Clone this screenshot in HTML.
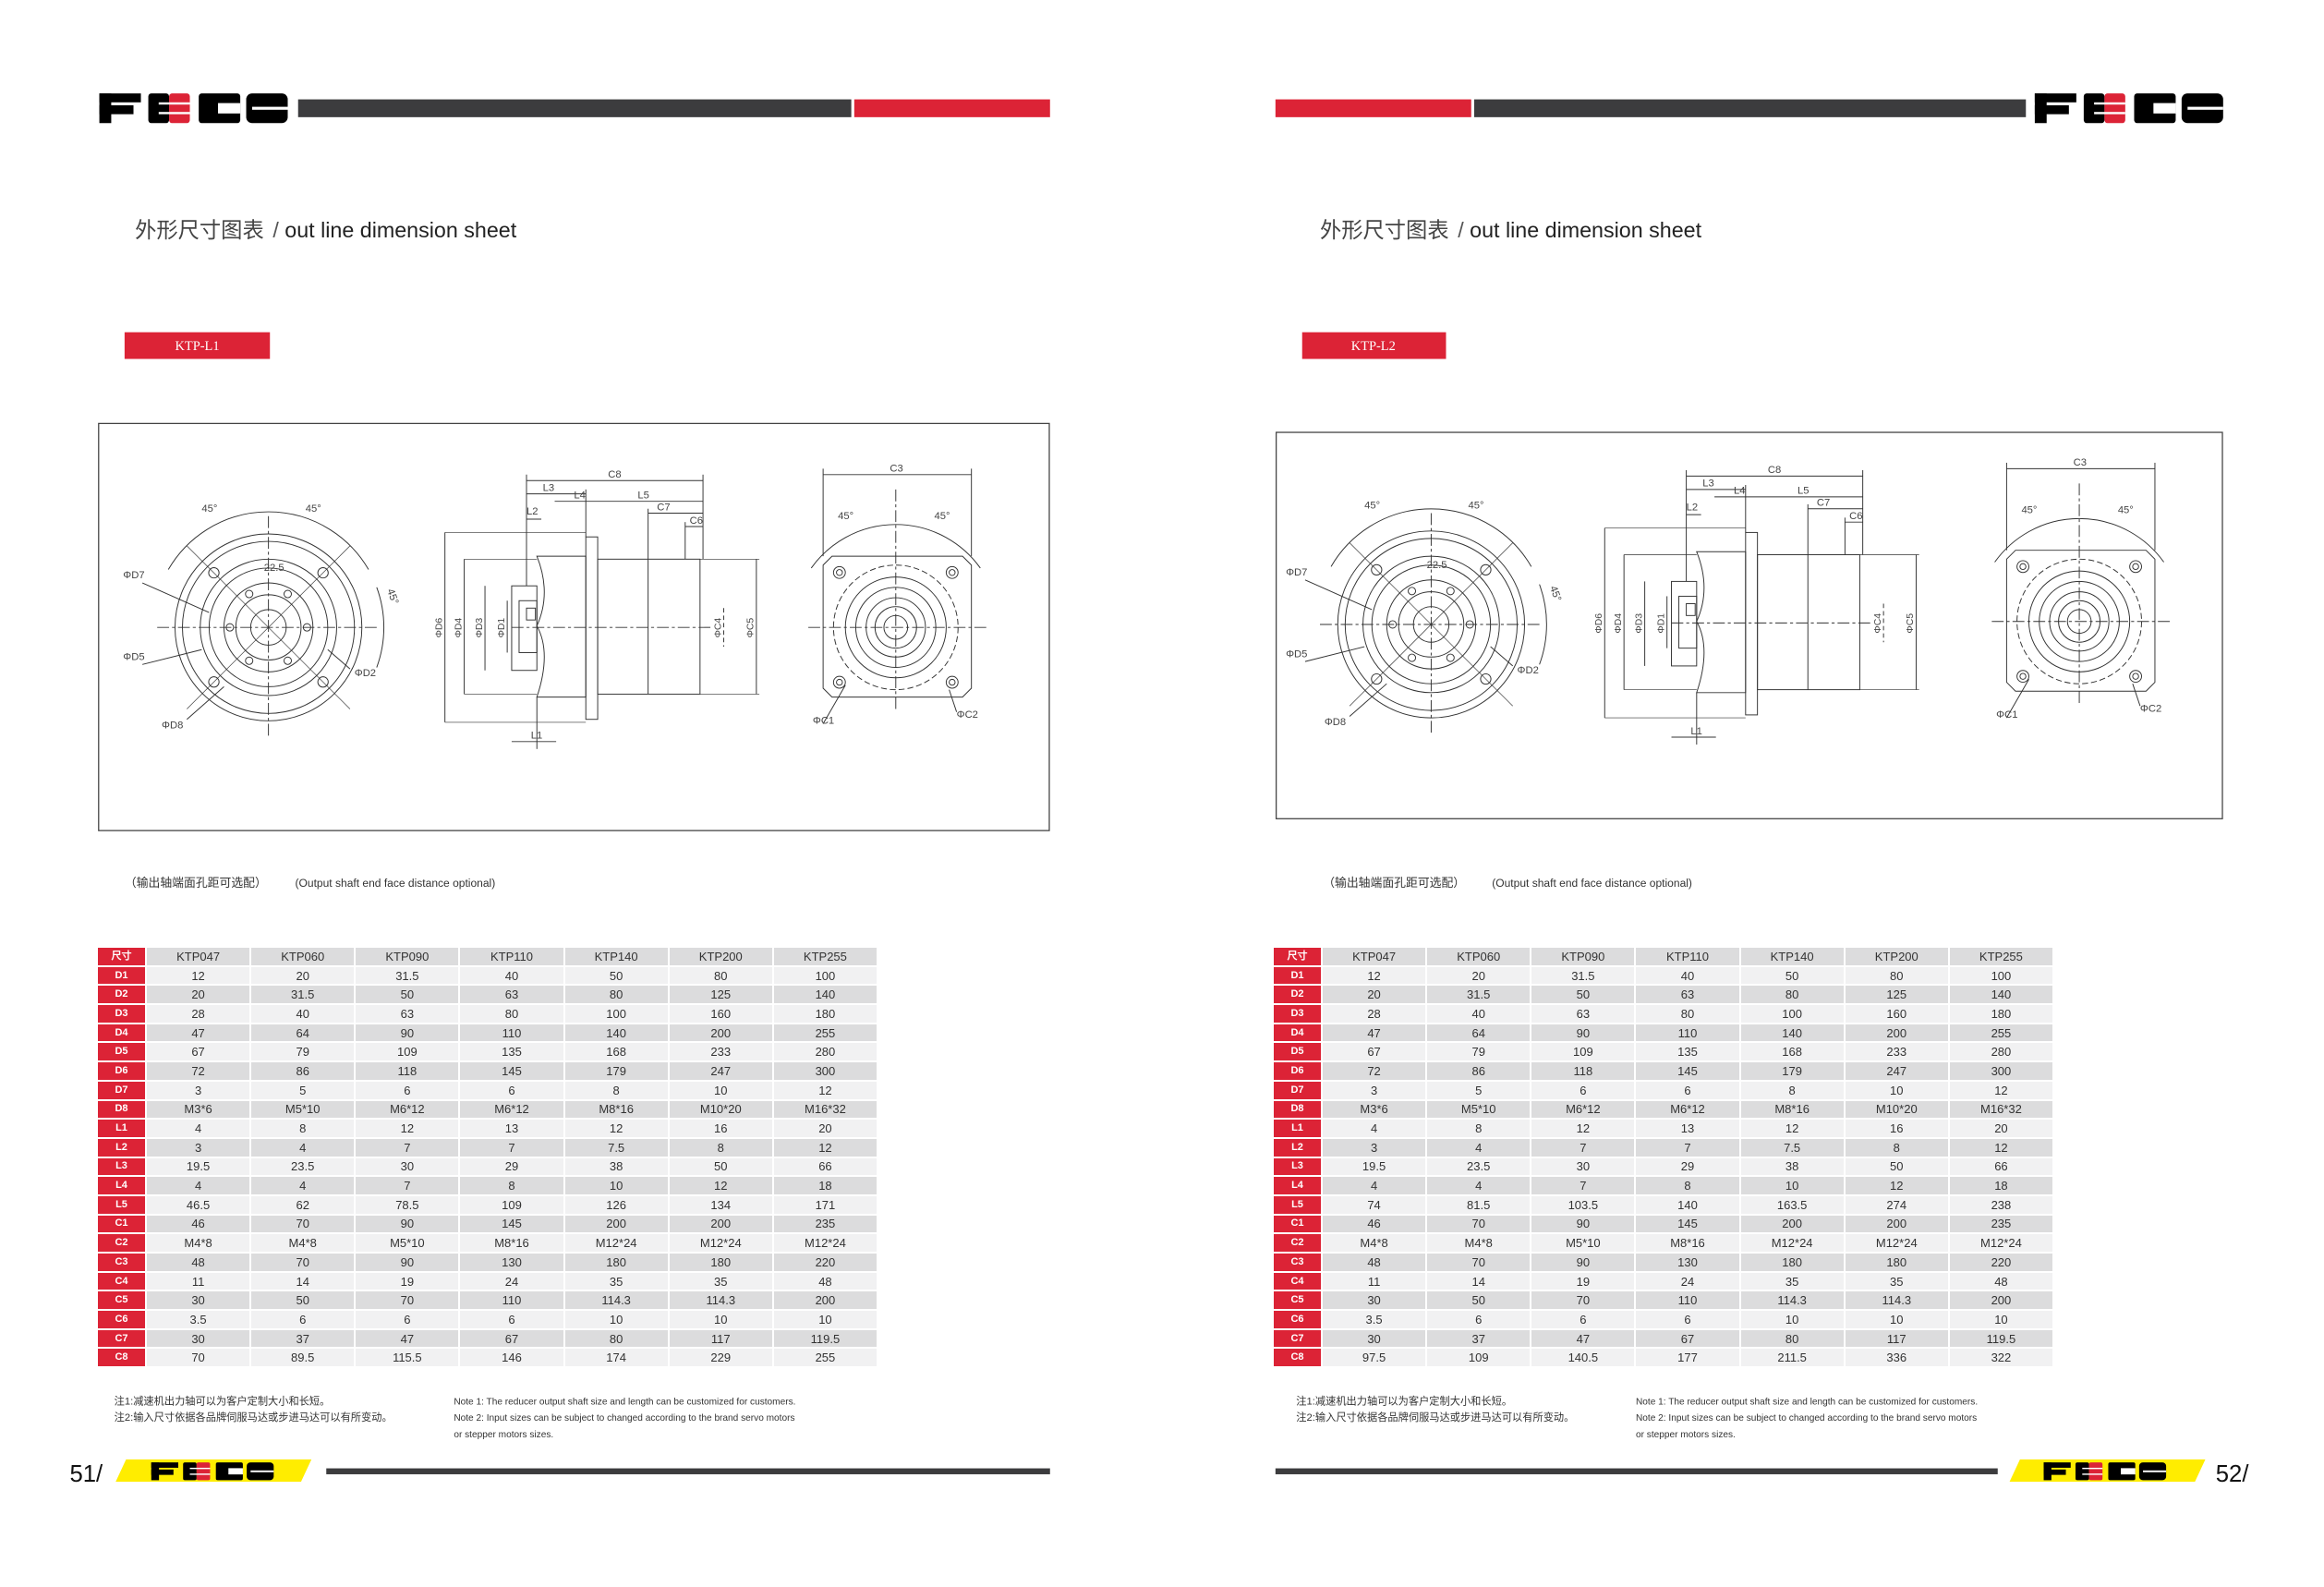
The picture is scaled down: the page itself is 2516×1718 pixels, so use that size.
<!DOCTYPE html>
<html><head><meta charset="utf-8"><style>
html,body{margin:0;padding:0;background:#fff}
#p{position:relative;width:2516px;height:1718px;overflow:hidden;background:#fff}
svg{position:absolute;left:0;top:0}
table{position:absolute;border-collapse:separate;border-spacing:2px;font-family:"Liberation Sans",sans-serif;font-size:13px;color:#333;table-layout:fixed}
td{height:18.7px;padding:0;text-align:center;line-height:17px}
td:first-child{background:#dc2336;color:#fff;font-weight:bold;font-size:11px;width:51px}
tr:nth-child(odd) td{background:#dcdcdd}
tr:nth-child(even) td{background:#f1f1f2}
tr td:first-child{background:#dc2336}
</style></head><body><div id="p">
<svg width="2516" height="1718" viewBox="0 0 1567 1070" xmlns="http://www.w3.org/2000/svg" font-family="Liberation Sans, Noto Sans CJK SC, sans-serif">
<defs>
<g id="logo">
<rect x="0" y="0" width="8" height="20" fill="#000"/><rect x="0" y="0" width="28" height="6" fill="#000"/><rect x="0" y="8" width="23" height="6" fill="#000"/>
<rect x="33" y="0" width="14" height="20" rx="2" fill="#000"/><rect x="47" y="0" width="14" height="20" rx="2" fill="#dc2336"/><rect x="40" y="6" width="21" height="1.5" fill="#fff"/><rect x="40" y="12.5" width="21" height="1.5" fill="#fff"/>
<rect x="67" y="0" width="28" height="20" rx="2" fill="#000"/><rect x="80" y="6.5" width="15" height="7" fill="#fff"/>
<rect x="99" y="0" width="28" height="20" rx="4" fill="#000"/><rect x="103" y="9" width="24" height="2" fill="#fff"/>
</g>
<g id="front" fill="none" stroke="#333" stroke-width="0.6">
<circle r="63"/><circle r="58"/><circle r="46"/><circle r="40"/><circle r="30"/><circle r="22"/><circle r="12"/>
<circle cx="36.8" cy="36.8" r="3.5"/><circle cx="-36.8" cy="36.8" r="3.5"/><circle cx="36.8" cy="-36.8" r="3.5"/><circle cx="-36.8" cy="-36.8" r="3.5"/>
<circle cx="26" cy="0" r="2.5"/><circle cx="-26" cy="0" r="2.5"/><circle cx="13" cy="22.5" r="2.5"/><circle cx="-13" cy="22.5" r="2.5"/><circle cx="13" cy="-22.5" r="2.5"/><circle cx="-13" cy="-22.5" r="2.5"/>
<line x1="-75" y1="0" x2="75" y2="0" stroke-dasharray="8 2 2 2"/><line x1="0" y1="-75" x2="0" y2="75" stroke-dasharray="8 2 2 2"/>
<line x1="-55" y1="-55" x2="55" y2="55" stroke-width="0.4"/><line x1="-55" y1="55" x2="55" y2="-55" stroke-width="0.4"/>
<path d="M-67.5 -39 A78 78 0 0 1 67.5 -39"/><path d="M73 -27 A78 78 0 0 1 73 27"/>
<line x1="-85" y1="-30" x2="-40" y2="-10"/><line x1="-85" y1="25" x2="-45" y2="15"/><line x1="-55" y1="62" x2="-30" y2="40"/><line x1="55" y1="28" x2="40" y2="15"/>
<g fill="#444" stroke="none" font-size="7"><text x="-98" y="-33">ΦD7</text><text x="-98" y="22">ΦD5</text><text x="-72" y="68">ΦD8</text><text x="58" y="33">ΦD2</text><text x="-3" y="-38">22.5</text><text x="-45" y="-78">45°</text><text x="25" y="-78">45°</text><text x="80" y="-25" transform="rotate(70 80 -25)">45°</text></g>
</g>
<g id="side" fill="none" stroke="#333" stroke-width="0.6">
<rect x="345" y="395" width="17" height="57"/><rect x="350" y="405" width="12" height="35"/>
<path d="M362 375 L395 375 L395 470 L362 470 Q372 440 362 422 Q372 400 362 375Z"/>
<rect x="395" y="362" width="8" height="123"/><rect x="403" y="377" width="69" height="91"/><line x1="437" y1="377" x2="437" y2="468"/>
<rect x="355" y="410" width="6" height="8"/><line x1="345" y1="423" x2="480" y2="423" stroke-dasharray="8 2 2 2"/>
<line x1="300" y1="359" x2="395" y2="359" stroke-width="0.4"/><line x1="300" y1="487" x2="395" y2="487" stroke-width="0.4"/>
<line x1="313" y1="377" x2="362" y2="377" stroke-width="0.4"/><line x1="313" y1="468" x2="362" y2="468" stroke-width="0.4"/>
<line x1="300" y1="359" x2="300" y2="487"/><line x1="313" y1="377" x2="313" y2="468"/><line x1="327" y1="395" x2="327" y2="452"/><line x1="342" y1="405" x2="342" y2="440"/>
<line x1="510" y1="377" x2="510" y2="468"/><line x1="472" y1="377" x2="512" y2="377" stroke-width="0.4"/><line x1="472" y1="468" x2="512" y2="468" stroke-width="0.4"/>
<line x1="488" y1="410" x2="488" y2="436" stroke-dasharray="3 2"/>
<line x1="355" y1="320" x2="355" y2="395"/><line x1="395" y1="330" x2="395" y2="362"/><line x1="474" y1="320" x2="474" y2="377"/><line x1="437" y1="343" x2="437" y2="377"/><line x1="462" y1="352" x2="462" y2="377"/>
<line x1="355" y1="324" x2="474" y2="324"/><line x1="355" y1="333" x2="395" y2="333"/><line x1="374" y1="338" x2="474" y2="338"/><line x1="437" y1="346" x2="474" y2="346"/><line x1="462" y1="355" x2="474" y2="355"/><line x1="355" y1="350" x2="365" y2="350"/>
<line x1="362" y1="470" x2="362" y2="505"/><line x1="345" y1="500" x2="375" y2="500"/>
<g fill="#444" stroke="none" font-size="7"><text x="410" y="322">C8</text><text x="366" y="331">L3</text><text x="387" y="336">L4</text><text x="430" y="336">L5</text><text x="443" y="344">C7</text><text x="465" y="353">C6</text><text x="355" y="347">L2</text><text x="358" y="498">L1</text>
<g font-size="6.5"><text transform="translate(298 430) rotate(-90)">ΦD6</text><text transform="translate(311 430) rotate(-90)">ΦD4</text><text transform="translate(325 430) rotate(-90)">ΦD3</text><text transform="translate(340 430) rotate(-90)">ΦD1</text><text transform="translate(508 430) rotate(-90)">ΦC5</text><text transform="translate(486 430) rotate(-90)">ΦC4</text></g></g>
</g>
<g id="sq" fill="none" stroke="#333" stroke-width="0.6">
<path d="M561 375 L649 375 L655 381 L655 464 L649 470 L561 470 L555 464 L555 381Z"/>
<circle cx="604" cy="423" r="42" stroke-dasharray="4 2"/><circle cx="604" cy="423" r="34"/><circle cx="604" cy="423" r="27"/><circle cx="604" cy="423" r="20"/><circle cx="604" cy="423" r="14"/><circle cx="604" cy="423" r="8"/>
<circle cx="566" cy="386" r="4"/><circle cx="642" cy="386" r="4"/><circle cx="566" cy="460" r="4"/><circle cx="642" cy="460" r="4"/>
<circle cx="566" cy="386" r="2"/><circle cx="642" cy="386" r="2"/><circle cx="566" cy="460" r="2"/><circle cx="642" cy="460" r="2"/>
<line x1="545" y1="423" x2="665" y2="423" stroke-dasharray="8 2 2 2"/><line x1="604" y1="330" x2="604" y2="480" stroke-dasharray="8 2 2 2"/>
<path d="M547 383 A70 70 0 0 1 661 383"/><line x1="555" y1="320" x2="655" y2="320"/><line x1="555" y1="316" x2="555" y2="375"/><line x1="655" y1="316" x2="655" y2="375"/>
<line x1="555" y1="488" x2="570" y2="462"/><line x1="645" y1="480" x2="640" y2="465"/>
<g fill="#444" stroke="none" font-size="7"><text x="600" y="318">C3</text><text x="565" y="350">45°</text><text x="630" y="350">45°</text><text x="548" y="488">ΦC1</text><text x="645" y="484">ΦC2</text></g>
</g>
</defs>

<use href="#logo" x="67" y="63"/>
<rect x="201" y="67" width="373" height="12" fill="#3c3c3e"/><rect x="576" y="67" width="132" height="12" fill="#dc2336"/>
<text x="91" y="160" font-size="14.5" fill="#222"><tspan fill="#444">外形尺寸图表</tspan><tspan dx="6" fill="#555">/</tspan> out line dimension sheet</text>
<rect x="84" y="224" width="98" height="18" fill="#dc2336"/><text x="133" y="236" font-size="9" fill="#fff" text-anchor="middle" font-family="Liberation Serif, serif">KTP-L1</text>
<rect x="66.5" y="285.5" width="641" height="274.5" fill="none" stroke="#444" stroke-width="0.8"/>
<use href="#front" x="181" y="423"/><use href="#side"/><use href="#sq"/>
<text x="84" y="598" font-size="8" fill="#333">（输出轴端面孔距可选配）<tspan x="199" font-size="7.5">(Output shaft end face distance optional)</tspan></text>
<g font-size="7" fill="#333"><text x="77" y="947">注1:减速机出力轴可以为客户定制大小和长短。</text><text x="77" y="958">注2:输入尺寸依据各品牌伺服马达或步进马达可以有所变动。</text>
<text x="306" y="947" font-size="6.3">Note 1: The reducer output shaft size and length can be customized for customers.</text><text x="306" y="958" font-size="6.3">Note 2: Input sizes can be subject to changed according to the brand servo motors</text><text x="306" y="969" font-size="6.3">or stepper motors sizes.</text></g>
<text x="47" y="999" font-size="16" fill="#111">51/</text>
<polygon points="85,984 210,984 203,999 78,999" fill="#ffed00"/>
<use href="#logo" transform="translate(102 986) scale(0.65 0.6)"/>
<rect x="220" y="990" width="488" height="4" fill="#3c3c3e"/>

<use href="#logo" x="1372" y="63"/>
<rect x="860" y="67" width="132" height="12" fill="#dc2336"/><rect x="994" y="67" width="372" height="12" fill="#3c3c3e"/>
<text x="890" y="160" font-size="14.5" fill="#222"><tspan fill="#444">外形尺寸图表</tspan><tspan dx="6" fill="#555">/</tspan> out line dimension sheet</text>
<rect x="878" y="224" width="97" height="18" fill="#dc2336"/><text x="926" y="236" font-size="9" fill="#fff" text-anchor="middle" font-family="Liberation Serif, serif">KTP-L2</text>
<rect x="860.5" y="291.5" width="638" height="260.5" fill="none" stroke="#444" stroke-width="0.8"/>
<use href="#front" x="965" y="421"/><use href="#side" x="782" y="-3"/><use href="#sq" x="798" y="-4"/>
<text x="892" y="598" font-size="8" fill="#333">（输出轴端面孔距可选配）<tspan x="1006" font-size="7.5">(Output shaft end face distance optional)</tspan></text>
<g font-size="7" fill="#333"><text x="874" y="947">注1:减速机出力轴可以为客户定制大小和长短。</text><text x="874" y="958">注2:输入尺寸依据各品牌伺服马达或步进马达可以有所变动。</text>
<text x="1103" y="947" font-size="6.3">Note 1: The reducer output shaft size and length can be customized for customers.</text><text x="1103" y="958" font-size="6.3">Note 2: Input sizes can be subject to changed according to the brand servo motors</text><text x="1103" y="969" font-size="6.3">or stepper motors sizes.</text></g>
<rect x="860" y="990" width="487" height="4" fill="#3c3c3e"/>
<polygon points="1362,984 1487,984 1480,999 1355,999" fill="#ffed00"/>
<use href="#logo" transform="translate(1378 986) scale(0.65 0.6)"/>
<text x="1494" y="999" font-size="16" fill="#111">52/</text>
</svg>

<table style="left:104px;top:1024px;width:847px">
<tr><td>尺寸</td><td>KTP047</td><td>KTP060</td><td>KTP090</td><td>KTP110</td><td>KTP140</td><td>KTP200</td><td>KTP255</td></tr>
<tr><td>D1</td><td>12</td><td>20</td><td>31.5</td><td>40</td><td>50</td><td>80</td><td>100</td></tr>
<tr><td>D2</td><td>20</td><td>31.5</td><td>50</td><td>63</td><td>80</td><td>125</td><td>140</td></tr>
<tr><td>D3</td><td>28</td><td>40</td><td>63</td><td>80</td><td>100</td><td>160</td><td>180</td></tr>
<tr><td>D4</td><td>47</td><td>64</td><td>90</td><td>110</td><td>140</td><td>200</td><td>255</td></tr>
<tr><td>D5</td><td>67</td><td>79</td><td>109</td><td>135</td><td>168</td><td>233</td><td>280</td></tr>
<tr><td>D6</td><td>72</td><td>86</td><td>118</td><td>145</td><td>179</td><td>247</td><td>300</td></tr>
<tr><td>D7</td><td>3</td><td>5</td><td>6</td><td>6</td><td>8</td><td>10</td><td>12</td></tr>
<tr><td>D8</td><td>M3*6</td><td>M5*10</td><td>M6*12</td><td>M6*12</td><td>M8*16</td><td>M10*20</td><td>M16*32</td></tr>
<tr><td>L1</td><td>4</td><td>8</td><td>12</td><td>13</td><td>12</td><td>16</td><td>20</td></tr>
<tr><td>L2</td><td>3</td><td>4</td><td>7</td><td>7</td><td>7.5</td><td>8</td><td>12</td></tr>
<tr><td>L3</td><td>19.5</td><td>23.5</td><td>30</td><td>29</td><td>38</td><td>50</td><td>66</td></tr>
<tr><td>L4</td><td>4</td><td>4</td><td>7</td><td>8</td><td>10</td><td>12</td><td>18</td></tr>
<tr><td>L5</td><td>46.5</td><td>62</td><td>78.5</td><td>109</td><td>126</td><td>134</td><td>171</td></tr>
<tr><td>C1</td><td>46</td><td>70</td><td>90</td><td>145</td><td>200</td><td>200</td><td>235</td></tr>
<tr><td>C2</td><td>M4*8</td><td>M4*8</td><td>M5*10</td><td>M8*16</td><td>M12*24</td><td>M12*24</td><td>M12*24</td></tr>
<tr><td>C3</td><td>48</td><td>70</td><td>90</td><td>130</td><td>180</td><td>180</td><td>220</td></tr>
<tr><td>C4</td><td>11</td><td>14</td><td>19</td><td>24</td><td>35</td><td>35</td><td>48</td></tr>
<tr><td>C5</td><td>30</td><td>50</td><td>70</td><td>110</td><td>114.3</td><td>114.3</td><td>200</td></tr>
<tr><td>C6</td><td>3.5</td><td>6</td><td>6</td><td>6</td><td>10</td><td>10</td><td>10</td></tr>
<tr><td>C7</td><td>30</td><td>37</td><td>47</td><td>67</td><td>80</td><td>117</td><td>119.5</td></tr>
<tr><td>C8</td><td>70</td><td>89.5</td><td>115.5</td><td>146</td><td>174</td><td>229</td><td>255</td></tr>
</table>

<table style="left:1377px;top:1024px;width:847px">
<tr><td>尺寸</td><td>KTP047</td><td>KTP060</td><td>KTP090</td><td>KTP110</td><td>KTP140</td><td>KTP200</td><td>KTP255</td></tr>
<tr><td>D1</td><td>12</td><td>20</td><td>31.5</td><td>40</td><td>50</td><td>80</td><td>100</td></tr>
<tr><td>D2</td><td>20</td><td>31.5</td><td>50</td><td>63</td><td>80</td><td>125</td><td>140</td></tr>
<tr><td>D3</td><td>28</td><td>40</td><td>63</td><td>80</td><td>100</td><td>160</td><td>180</td></tr>
<tr><td>D4</td><td>47</td><td>64</td><td>90</td><td>110</td><td>140</td><td>200</td><td>255</td></tr>
<tr><td>D5</td><td>67</td><td>79</td><td>109</td><td>135</td><td>168</td><td>233</td><td>280</td></tr>
<tr><td>D6</td><td>72</td><td>86</td><td>118</td><td>145</td><td>179</td><td>247</td><td>300</td></tr>
<tr><td>D7</td><td>3</td><td>5</td><td>6</td><td>6</td><td>8</td><td>10</td><td>12</td></tr>
<tr><td>D8</td><td>M3*6</td><td>M5*10</td><td>M6*12</td><td>M6*12</td><td>M8*16</td><td>M10*20</td><td>M16*32</td></tr>
<tr><td>L1</td><td>4</td><td>8</td><td>12</td><td>13</td><td>12</td><td>16</td><td>20</td></tr>
<tr><td>L2</td><td>3</td><td>4</td><td>7</td><td>7</td><td>7.5</td><td>8</td><td>12</td></tr>
<tr><td>L3</td><td>19.5</td><td>23.5</td><td>30</td><td>29</td><td>38</td><td>50</td><td>66</td></tr>
<tr><td>L4</td><td>4</td><td>4</td><td>7</td><td>8</td><td>10</td><td>12</td><td>18</td></tr>
<tr><td>L5</td><td>74</td><td>81.5</td><td>103.5</td><td>140</td><td>163.5</td><td>274</td><td>238</td></tr>
<tr><td>C1</td><td>46</td><td>70</td><td>90</td><td>145</td><td>200</td><td>200</td><td>235</td></tr>
<tr><td>C2</td><td>M4*8</td><td>M4*8</td><td>M5*10</td><td>M8*16</td><td>M12*24</td><td>M12*24</td><td>M12*24</td></tr>
<tr><td>C3</td><td>48</td><td>70</td><td>90</td><td>130</td><td>180</td><td>180</td><td>220</td></tr>
<tr><td>C4</td><td>11</td><td>14</td><td>19</td><td>24</td><td>35</td><td>35</td><td>48</td></tr>
<tr><td>C5</td><td>30</td><td>50</td><td>70</td><td>110</td><td>114.3</td><td>114.3</td><td>200</td></tr>
<tr><td>C6</td><td>3.5</td><td>6</td><td>6</td><td>6</td><td>10</td><td>10</td><td>10</td></tr>
<tr><td>C7</td><td>30</td><td>37</td><td>47</td><td>67</td><td>80</td><td>117</td><td>119.5</td></tr>
<tr><td>C8</td><td>97.5</td><td>109</td><td>140.5</td><td>177</td><td>211.5</td><td>336</td><td>322</td></tr>
</table>
</div></body></html>
